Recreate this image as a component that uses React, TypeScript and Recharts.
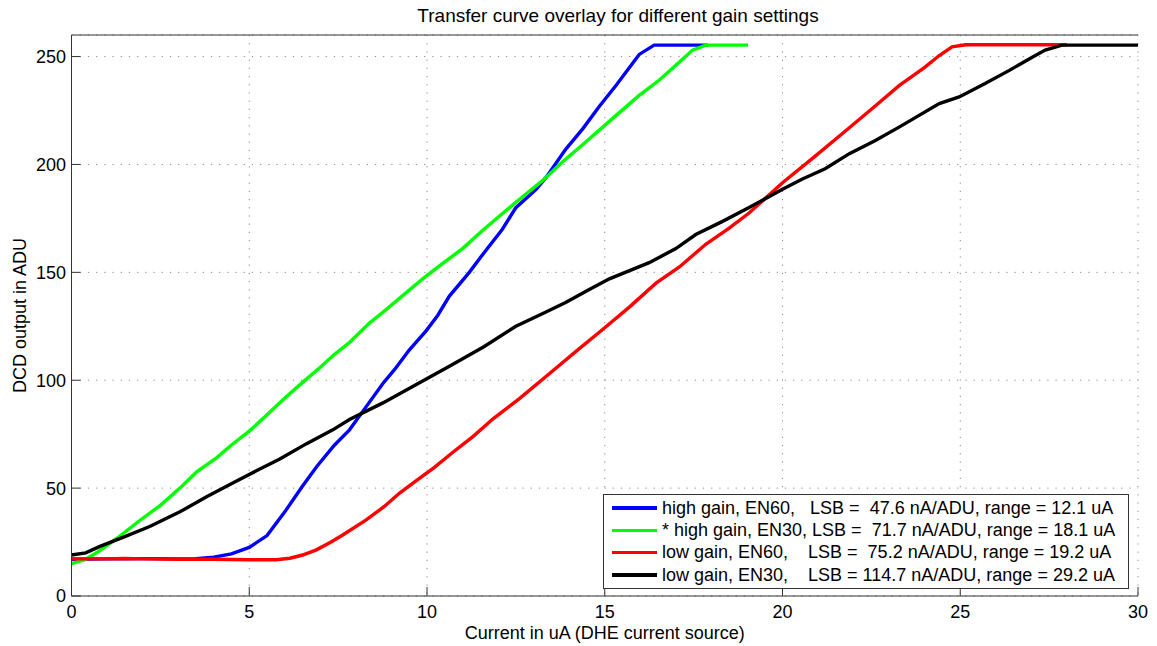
import { LineChart, Line, XAxis, YAxis, CartesianGrid } from "recharts";

// [current in uA, DCD output in ADU]
const highGainEN60 = [
  [0, 17], [1, 17.2], [2, 17.3], [3, 17.2], [3.5, 17.3], [4, 18], [4.5, 19.5], [5, 22.5],
  [5.5, 28], [6, 39], [6.5, 51], [6.9, 60], [7.4, 70], [7.82, 77], [8.3, 88], [8.76, 98.5],
  [9.09, 105], [9.5, 114], [9.98, 123], [10.3, 130], [10.63, 139], [11.19, 150], [11.6, 159],
  [12.12, 170], [12.5, 180], [13.07, 188.5], [13.35, 194], [13.9, 207], [14.38, 216.5],
  [14.85, 227], [15.31, 236.5], [15.97, 251], [16.39, 255.3], [17.9, 255.3],
];

const highGainEN30 = [
  [0, 15], [0.4, 17], [0.8, 21], [1.3, 27], [1.92, 35], [2.5, 42], [3.05, 50], [3.52, 57.5],
  [4.08, 64], [4.5, 70], [5.01, 76.5], [5.5, 84], [5.95, 91], [6.5, 99], [7, 106], [7.4, 112],
  [7.82, 117.5], [8.38, 126.5], [8.76, 131.5], [9.3, 139], [9.88, 147], [10.35, 153], [11, 161],
  [11.57, 169.5], [12, 175.5], [12.5, 182.5], [13.25, 192.5], [13.8, 201], [14.4, 209.5],
  [15.2, 221], [15.97, 232], [16.53, 239], [17, 246], [17.47, 253], [17.84, 255.3], [19.03, 255.3],
];

const lowGainEN60 = [
  [0, 17.2], [1, 17.2], [1.5, 17.4], [2, 17.2], [3, 17], [4, 17], [5, 16.8], [5.76, 16.8],
  [6.14, 17.5], [6.5, 19], [6.89, 21.4], [7.3, 25], [7.63, 28.3], [8.29, 35.3], [8.8, 41.5],
  [9.23, 47.7], [9.7, 53.5], [10.2, 59.5], [10.72, 66.5], [11.3, 74], [11.85, 82], [12.6, 91.5],
  [13.44, 103], [14.2, 113.5], [14.94, 123.5], [15.7, 134], [16.44, 145], [17.1, 152.5],
  [17.84, 163], [18.5, 170.5], [19.06, 177.5], [20, 191.5], [20.93, 204], [21.88, 217],
  [22.6, 227], [23.28, 236.5], [24, 245], [24.41, 250.5], [24.77, 254.5], [25.15, 255.5], [28, 255.5],
];

const lowGainEN30 = [
  [0, 19], [0.4, 20], [0.8, 23], [1.5, 27.5], [2.2, 32.2], [3.05, 39], [3.8, 46], [4.55, 52.5],
  [5.2, 58], [5.86, 63.5], [6.6, 70.5], [7.35, 77], [7.82, 81.8], [8.76, 89.5], [9.7, 98],
  [10.63, 106.5], [11.6, 115.5], [12.5, 125], [13.2, 130.5], [13.9, 136], [14.5, 141.5],
  [15.13, 147], [16.25, 154.5], [17, 161], [17.56, 167.5], [18.3, 173.5], [19.06, 180],
  [20, 188.5], [20.56, 193.3], [21.2, 198], [21.88, 205], [22.6, 211], [23.28, 217.3],
  [24.41, 228.2], [24.97, 231.3], [25.7, 237.5], [26.38, 243.6], [27, 249.5], [27.39, 253],
  [27.86, 255.3], [30, 255.3],
];

const xTicks = [0, 5, 10, 15, 20, 25, 30];
const yTicks = [0, 50, 100, 150, 200, 250];

const seriesList = [
  { name: "highGainEN60", points: highGainEN60, color: "#0000ff", label: "high gain, EN60,   LSB =  47.6 nA/ADU, range = 12.1 uA" },
  { name: "highGainEN30", points: highGainEN30, color: "#00ff00", label: "* high gain, EN30, LSB =  71.7 nA/ADU, range = 18.1 uA" },
  { name: "lowGainEN60", points: lowGainEN60, color: "#ff0000", label: "low gain, EN60,    LSB =  75.2 nA/ADU, range = 19.2 uA" },
  { name: "lowGainEN30", points: lowGainEN30, color: "#000000", label: "low gain, EN30,    LSB = 114.7 nA/ADU, range = 29.2 uA" },
];

const font = "Arial, 'Liberation Sans', Helvetica, sans-serif";
const axisColor = "#333";

export default function App() {
  return (
    <div style={{ position: "absolute", left: 0, top: 0, width: 1157, height: 646, background: "#fff" }}>
      <LineChart width={1157} height={646} margin={{ top: 35, right: 19, bottom: 0, left: 0 }}>
        <text x={618} y={22} textAnchor="middle" fontSize={19} fontFamily={font} fill="#000">
          Transfer curve overlay for different gain settings
        </text>
        <CartesianGrid stroke="#888" strokeDasharray="1.2 7" vertical horizontal />
        <XAxis
          type="number"
          dataKey="x"
          domain={[0, 30]}
          ticks={xTicks}
          allowDataOverflow
          height={50}
          stroke={axisColor}
          tickSize={-9}
          tickMargin={18}
          tick={{ fill: "#000", fontSize: 18, fontFamily: font }}
          label={{ value: "Current in uA (DHE current source)", position: "insideBottom", offset: 7, fill: "#000", fontSize: 18, fontFamily: font }}
        />
        <XAxis
          xAxisId="top"
          orientation="top"
          type="number"
          domain={[0, 30]}
          ticks={xTicks}
          allowDataOverflow
          height={1}
          mirror
          tick={false}
          tickSize={9}
          stroke={axisColor}
        />
        <YAxis
          type="number"
          domain={[0, 260]}
          ticks={yTicks}
          allowDataOverflow
          width={71.5}
          stroke={axisColor}
          tickSize={-9}
          tickMargin={14.5}
          tick={{ fill: "#000", fontSize: 18, fontFamily: font }}
          label={{ value: "DCD output in ADU", angle: -90, position: "insideLeft", offset: 20, style: { textAnchor: "middle" }, fill: "#000", fontSize: 18, fontFamily: font }}
        />
        <YAxis
          yAxisId="right"
          orientation="right"
          type="number"
          domain={[0, 260]}
          ticks={yTicks}
          allowDataOverflow
          width={0}
          mirror
          tick={false}
          tickSize={9}
          stroke={axisColor}
        />
        {seriesList.map((s) => (
          <Line
            key={s.name}
            name={s.name}
            data={s.points.map(([x, y]) => ({ x, y }))}
            dataKey="y"
            type="linear"
            stroke={s.color}
            strokeWidth={3.4}
            dot={false}
            activeDot={false}
            isAnimationActive={false}
          />
        ))}
      </LineChart>
      <div
        style={{
          position: "absolute",
          left: 603,
          top: 494,
          width: 526,
          height: 95,
          border: "1px solid #333",
          background: "#fff",
          boxSizing: "border-box",
          padding: "2px 0 0 8px",
          fontFamily: font,
          fontSize: 18,
        }}
      >
        {seriesList.map((s) => (
          <div key={s.name} style={{ display: "flex", alignItems: "center", height: 22.3 }}>
            <div style={{ width: 45, height: 3.4, background: s.color, marginRight: 5, flexShrink: 0 }} />
            <span style={{ whiteSpace: "pre", color: "#000" }}>{s.label}</span>
          </div>
        ))}
      </div>
    </div>
  );
}
